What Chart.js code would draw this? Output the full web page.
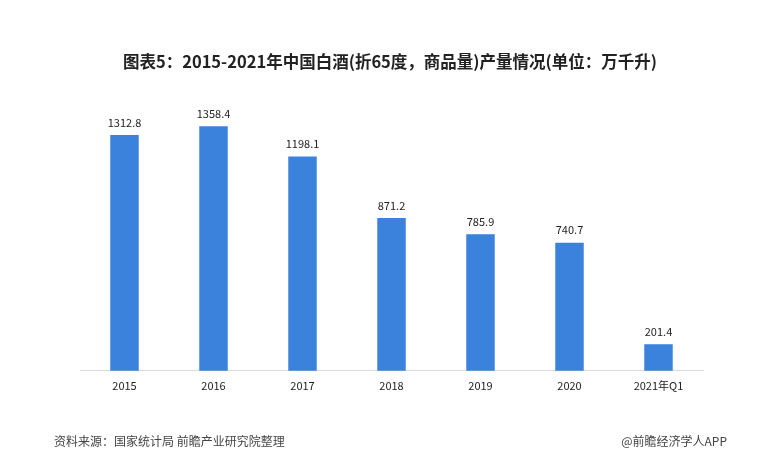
<!DOCTYPE html>
<html>
<head>
<meta charset="utf-8">
<script src="https://cdn.jsdelivr.net/npm/chart.js@4.4.0/dist/chart.umd.min.js"></script>
<style>
  html, body { margin: 0; padding: 0; background: #fff; }
  #wrap { width: 768px; height: 466px; position: relative; }
</style>
</head>
<body>
<div id="wrap"><canvas id="grafico" width="768" height="466"></canvas></div>
<script>
const categorias = ['2015', '2016', '2017', '2018', '2019', '2020', '2021年Q1'];
const produccion = [1312.8, 1358.4, 1198.1, 871.2, 785.9, 740.7, 201.4];

const titulo = '图表5：2015-2021年中国白酒(折65度，商品量)产量情况(单位：万千升)';
const fuente = '资料来源：国家统计局 前瞻产业研究院整理';
const marca = '@前瞻经济学人APP';

const fontFam = '"Microsoft YaHei", "Noto Sans CJK SC", "Liberation Sans", sans-serif';

// Etiquetas de valor, título y pie
const textosPlugin = {
    id: 'textos',
    afterDatasetsDraw(chart) {
        const ctx = chart.ctx;
        const meta = chart.getDatasetMeta(0);
        ctx.save();
        ctx.fillStyle = '#222';
        ctx.font = '11px ' + fontFam;
        ctx.textAlign = 'center';
        ctx.textBaseline = 'bottom';
        meta.data.forEach((bar, i) => {
            ctx.fillText(produccion[i].toFixed(1), bar.x, bar.y - 7);
        });
        ctx.restore();
    },
    afterDraw(chart) {
        const ctx = chart.ctx;
        ctx.save();
        ctx.fillStyle = '#222';
        ctx.font = 'bold 16.5px ' + fontFam;
        ctx.textAlign = 'center';
        ctx.textBaseline = 'middle';
        ctx.fillText(titulo, 390, 62);

        ctx.font = '12px ' + fontFam;
        ctx.fillStyle = '#444';
        ctx.textAlign = 'left';
        ctx.fillText(fuente, 54, 441);
        ctx.textAlign = 'right';
        ctx.fillText(marca, 727, 441);
        ctx.restore();
    }
};

const ctx = document.getElementById('grafico').getContext('2d');
new Chart(ctx, {
    type: 'bar',
    data: {
        labels: categorias,
        datasets: [{
            data: produccion,
            backgroundColor: '#3b82dc',
            borderWidth: 0,
            categoryPercentage: 1,
            barPercentage: 0.32
        }]
    },
    options: {
        responsive: false,
        animation: false,
        layout: {
            padding: { left: 80, right: 65, top: 82, bottom: 66 }
        },
        plugins: {
            legend: { display: false },
            tooltip: { enabled: false },
            title: { display: false }
        },
        scales: {
            x: {
                grid: { display: false, drawTicks: false },
                border: { display: true, color: '#d9d9d9', width: 1 },
                ticks: {
                    color: '#222',
                    padding: 8,
                    font: { size: 11, family: fontFam }
                }
            },
            y: {
                display: false,
                min: 60,
                max: 1594
            }
        }
    },
    plugins: [textosPlugin]
});
</script>
</body>
</html>
